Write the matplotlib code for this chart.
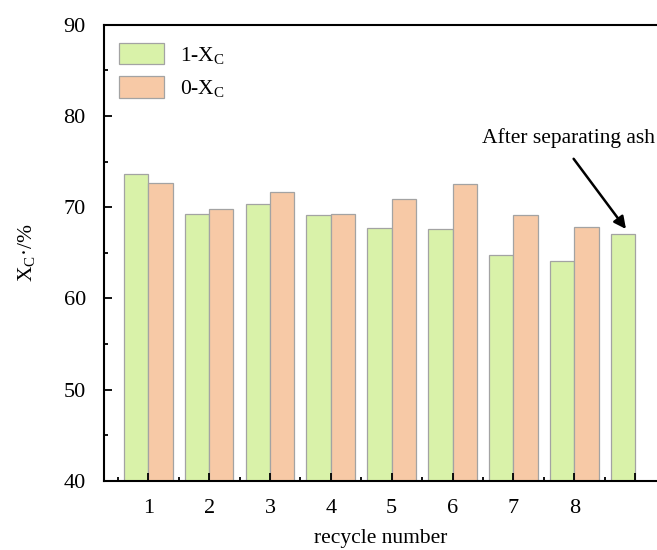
import matplotlib
matplotlib.use("Agg")
import matplotlib.pyplot as plt
import numpy as np
from matplotlib.ticker import MultipleLocator

plt.rcParams["font.family"] = ["Liberation Serif", "DejaVu Serif"]
plt.rcParams["mathtext.fontset"] = "custom"
plt.rcParams["mathtext.rm"] = "Liberation Serif"
plt.rcParams["mathtext.default"] = "rm"

# conversion per run
cycles = [1, 2, 3, 4, 5, 6, 7, 8]
xc_1 = [73.6, 69.3, 70.3, 69.1, 67.7, 67.6, 64.8, 64.1]
xc_0 = [72.6, 69.8, 71.7, 69.3, 70.9, 72.5, 69.1, 67.8]
ash_free_pos = 9
ash_free_value = 67.1

green = "#d9f2a9"
orange = "#f7c9a6"
edge = "#a3a3a3"
width = 0.4
fs = 15.5

fig = plt.figure(figsize=(6.57, 5.5), dpi=100)
ax = fig.add_axes([0.158, 0.126, 0.842, 0.829])

x = np.array(cycles)
ax.bar(x - width / 2, xc_1, width, color=green, edgecolor=edge, linewidth=0.9, label="1-X$_C$")
ax.bar(x + width / 2, xc_0, width, color=orange, edgecolor=edge, linewidth=0.9, label="0-X$_C$")
ax.bar(ash_free_pos - width / 2, ash_free_value, width, color=green, edgecolor=edge, linewidth=0.9)

ax.set_xlim(0.27, 9.36)
ax.set_ylim(40, 90)
ax.set_xticks(cycles + [9])
ax.set_xticklabels([str(c) for c in cycles] + [""])
ax.set_xticks(np.arange(0.5, 9.5, 1), minor=True)
ax.yaxis.set_major_locator(MultipleLocator(10))
ax.yaxis.set_minor_locator(MultipleLocator(5))

ax.tick_params(which="both", direction="in", width=1.3, labelsize=16, pad=13)
ax.tick_params(which="major", length=6)
ax.tick_params(which="minor", length=3)
ax.tick_params(axis="x", which="both", top=False)

for side in ["left", "bottom", "top"]:
    ax.spines[side].set_linewidth(1.5)
ax.spines["right"].set_visible(False)

ax.set_xlabel("recycle number", fontsize=fs, labelpad=8)
ax.set_ylabel("X$_C$·/%", fontsize=fs, labelpad=19)

ax.legend(loc="upper left", bbox_to_anchor=(15 / 553, 1 - 18 / 456),
          frameon=False, fontsize=fs, borderpad=0, borderaxespad=0,
          handlelength=2.1, handleheight=1.15, handletextpad=0.75,
          labelspacing=0.5)

ax.text(7.91, 77.6, "After separating ash", fontsize=fs, ha="center", va="center")
ax.annotate("", xy=(8.85, 67.6), xytext=(7.99, 75.3),
            arrowprops=dict(arrowstyle="-|>", color="black", lw=1.8,
                            mutation_scale=18, shrinkA=0, shrinkB=0))

fig.savefig("out.png", dpi=100)
